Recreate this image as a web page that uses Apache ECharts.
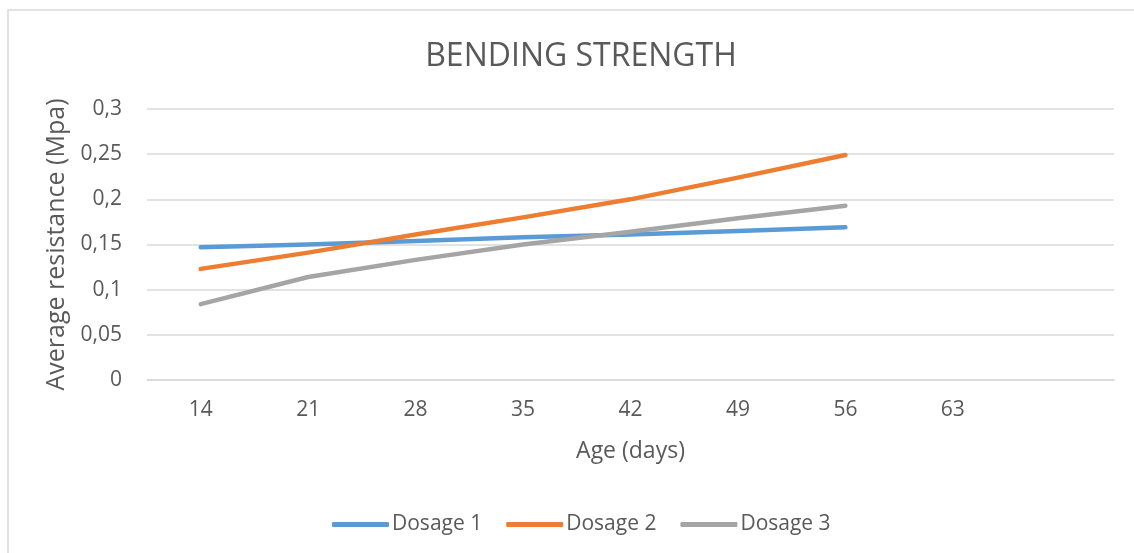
<!DOCTYPE html>
<html>
<head>
<meta charset="utf-8">
<script src="https://cdn.jsdelivr.net/npm/echarts@6/dist/echarts.min.js"></script>
<style>
  html, body { margin: 0; padding: 0; background: #fff; }
  #chart { width: 1134px; height: 553px; }
</style>
</head>
<body>
<div id="chart"></div>
<script>
// data
var ages = ['14', '21', '28', '35', '42', '49', '56', '63', ''];
var dosage1 = [0.147, 0.150, 0.154, 0.158, 0.161, 0.165, 0.169];
var dosage2 = [0.123, 0.141, 0.161, 0.180, 0.200, 0.224, 0.249];
var dosage3 = [0.084, 0.114, 0.133, 0.150, 0.164, 0.179, 0.193];
var seriesNames = ['Dosage 1', 'Dosage 2', 'Dosage 3'];
var colors = ['#5B9BD5', '#ED7D31', '#A5A5A5'];

var font = 'Open Sans';
var textColor = '#595959';

var chart = echarts.init(document.getElementById('chart'));

function line(name, data, color) {
  return {
    name: name,
    type: 'line',
    data: data,
    smooth: false,
    showSymbol: false,
    symbol: 'none',
    lineStyle: { color: color, width: 4.5, cap: 'round', join: 'round' },
    itemStyle: { color: color }
  };
}

chart.setOption({
  animation: false,
  color: colors,
  graphic: [{
    type: 'rect',
    shape: { x: 8, y: 10, width: 1200, height: 600 },
    style: { fill: 'none', stroke: '#D9D9D9', lineWidth: 1.5 },
    silent: true
  }],
  title: {
    text: 'BENDING STRENGTH',
    left: 576,
    top: 36,
    textAlign: 'center',
    textStyle: { fontFamily: font, fontSize: 32, fontWeight: 'normal', color: textColor }
  },
  legend: {
    data: seriesNames,
    left: 327,
    top: 509,
    icon: 'roundRect',
    itemWidth: 57,
    itemHeight: 5,
    itemGap: 24,
    textStyle: { fontFamily: font, fontSize: 21, color: textColor, padding: [0, 0, 0, -2] }
  },
  grid: { left: 147, right: 20, top: 109, bottom: 173 },
  xAxis: {
    type: 'category',
    data: ages,
    boundaryGap: true,
    name: 'Age (days)',
    nameLocation: 'middle',
    nameGap: 60,
    nameTextStyle: { fontFamily: font, fontSize: 23, color: textColor },
    axisLine: { lineStyle: { color: '#D9D9D9', width: 1.5 } },
    axisTick: { show: false },
    axisLabel: { fontFamily: font, fontSize: 21, color: textColor, margin: 20 }
  },
  yAxis: {
    type: 'value',
    min: 0,
    max: 0.3,
    interval: 0.05,
    name: 'Average resistance (Mpa)',
    nameLocation: 'middle',
    nameGap: 75,
    nameTextStyle: { fontFamily: font, fontSize: 25, color: textColor },
    axisLine: { show: false },
    axisTick: { show: false },
    splitLine: { lineStyle: { color: '#D9D9D9', width: 1.5 } },
    axisLabel: {
      fontFamily: font, fontSize: 21, color: textColor, margin: 25,
      formatter: function (v) { return String(Math.round(v * 100) / 100).replace('.', ','); }
    }
  },
  series: [
    line(seriesNames[0], dosage1, colors[0]),
    line(seriesNames[1], dosage2, colors[1]),
    line(seriesNames[2], dosage3, colors[2])
  ]
});
</script>
</body>
</html>
